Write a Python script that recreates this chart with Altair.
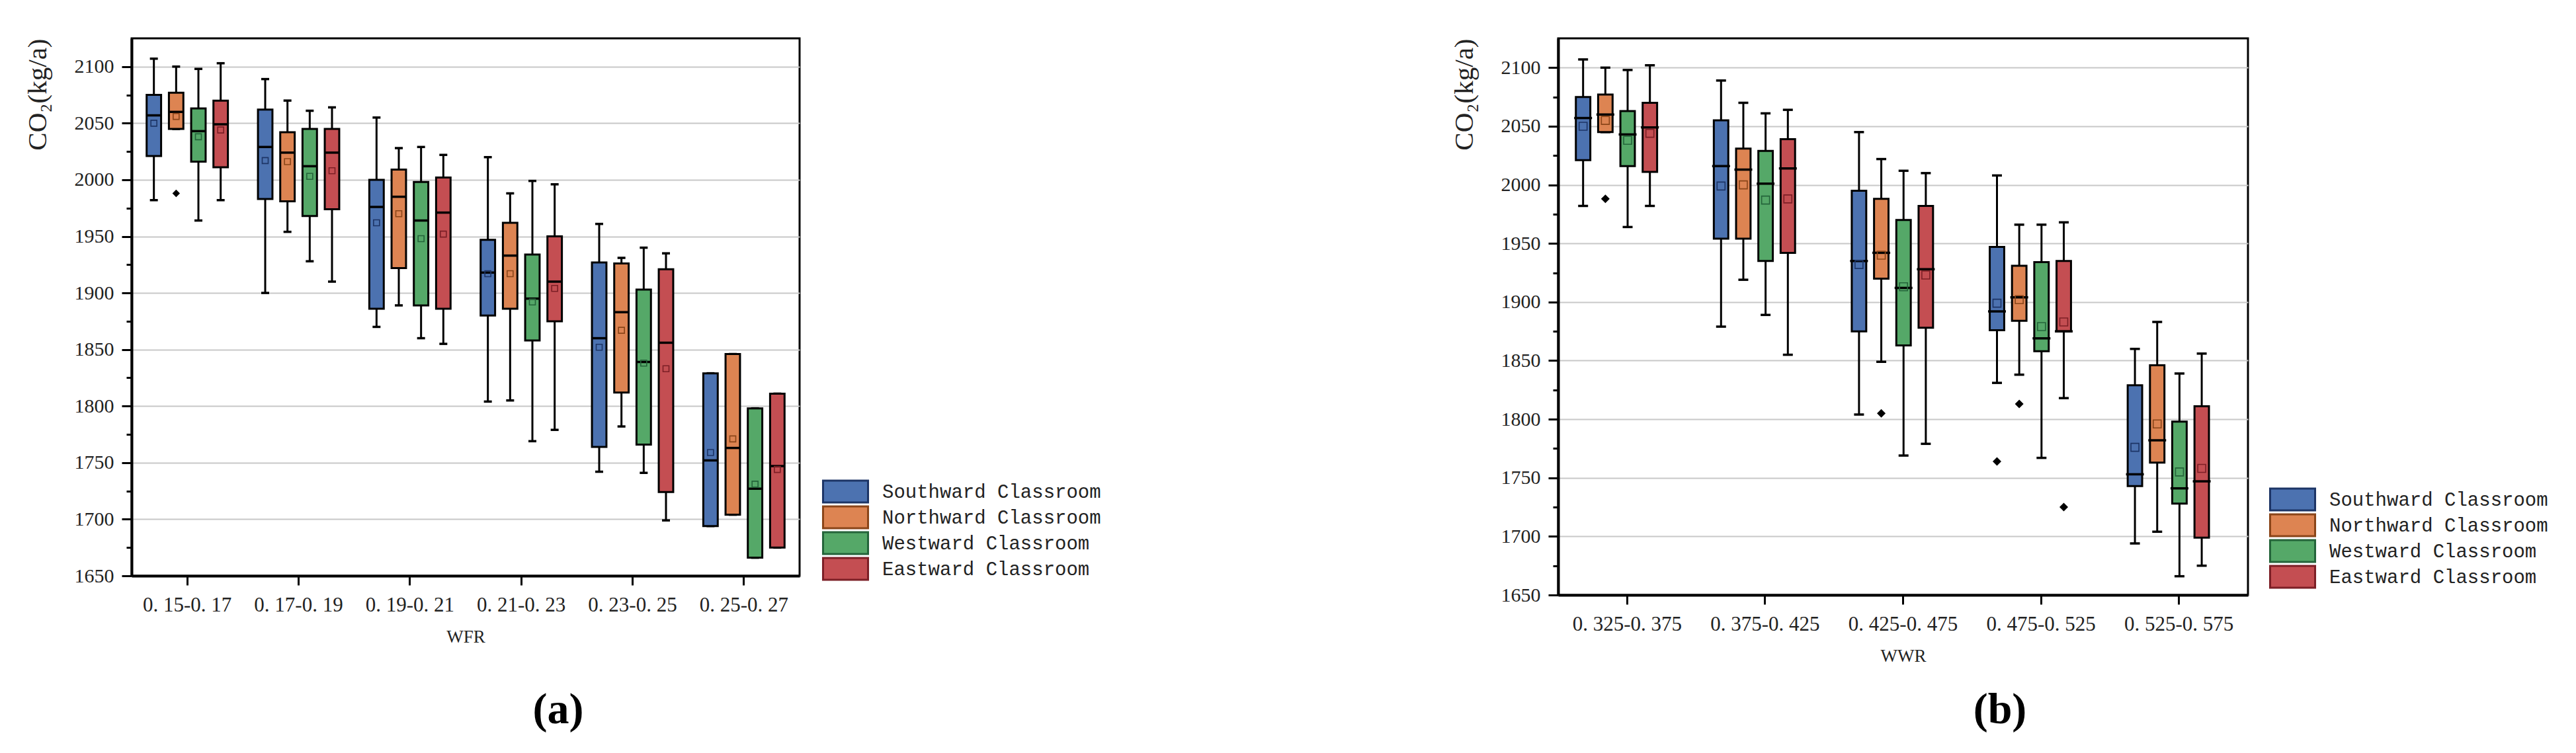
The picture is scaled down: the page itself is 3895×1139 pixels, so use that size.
import altair as alt
import pandas as pd

ORIENTS = ["Southward Classroom", "Northward Classroom", "Westward Classroom", "Eastward Classroom"]
FILLS = ["#4C72B0", "#DD8452", "#55A868", "#C44E52"]
MEAN_STROKES = ["#1d3566", "#8a4519", "#24643a", "#7c1f26"]

# ---------- panel (a): WFR ----------
WFR_BINS = ["0. 15-0. 17", "0. 17-0. 19", "0. 19-0. 21", "0. 21-0. 23", "0. 23-0. 25", "0. 25-0. 27"]
# values listed bin by bin, each bin in ORIENTS order (S, N, W, E)
WFR_LOW = [1982, 2045, 1964, 1982,
           1900, 1954, 1928, 1910,
           1870, 1889, 1860, 1855,
           1804, 1805, 1769, 1779,
           1742, 1782, 1741, 1699,
           1694, 1704, 1666, 1675]
WFR_Q1 = [2021, 2045, 2016, 2011,
          1983, 1981, 1968, 1974,
          1886, 1922, 1889, 1886,
          1880, 1886, 1858, 1875,
          1764, 1812, 1766, 1724,
          1694, 1704, 1666, 1675]
WFR_MED = [2057, 2060, 2043, 2049,
           2029, 2024, 2012, 2024,
           1976, 1985, 1964, 1971,
           1918, 1933, 1895, 1910,
           1860, 1883, 1839, 1856,
           1752, 1763, 1727, 1747]
WFR_Q3 = [2075, 2077, 2063, 2070,
          2062, 2042, 2045, 2045,
          2000, 2009, 1998, 2002,
          1947, 1962, 1934, 1950,
          1927, 1926, 1903, 1921,
          1829, 1846, 1798, 1811]
WFR_HIGH = [2107, 2100, 2098, 2103,
            2089, 2070, 2061, 2064,
            2055, 2028, 2029, 2022,
            2020, 1988, 1999, 1996,
            1961, 1931, 1940, 1935,
            1829, 1846, 1798, 1811]
WFR_MEAN = [2050, 2056, 2038, 2044,
            2017, 2016, 2003, 2008,
            1962, 1970, 1948, 1952,
            1917, 1917, 1892, 1904,
            1852, 1867, 1838, 1833,
            1759, 1771, 1731, 1744]
WFR_OUT_BIN = ["0. 15-0. 17"]
WFR_OUT_ORIENT = ["Northward Classroom"]
WFR_OUT_VAL = [1988]

# ---------- panel (b): WWR ----------
WWR_BINS = ["0. 325-0. 375", "0. 375-0. 425", "0. 425-0. 475", "0. 475-0. 525", "0. 525-0. 575"]
WWR_LOW = [1982, 2045, 1964, 1982,
           1879, 1919, 1889, 1855,
           1804, 1849, 1769, 1779,
           1831, 1838, 1767, 1818,
           1694, 1704, 1666, 1675]
WWR_Q1 = [2021, 2045, 2016, 2011,
          1954, 1954, 1935, 1942,
          1875, 1920, 1863, 1878,
          1876, 1884, 1858, 1875,
          1743, 1763, 1728, 1699]
WWR_MED = [2057, 2060, 2043, 2049,
           2016, 2013, 2001, 2014,
           1935, 1942, 1912, 1928,
           1892, 1904, 1869, 1875,
           1753, 1782, 1741, 1747]
WWR_Q3 = [2075, 2077, 2063, 2070,
          2055, 2031, 2029, 2039,
          1995, 1988, 1970, 1982,
          1947, 1931, 1934, 1935,
          1829, 1846, 1798, 1811]
WWR_HIGH = [2107, 2100, 2098, 2102,
            2089, 2070, 2061, 2064,
            2045, 2022, 2012, 2010,
            2008, 1966, 1966, 1968,
            1860, 1883, 1839, 1856]
WWR_MEAN = [2050, 2055, 2038, 2044,
            1999, 2000, 1987, 1988,
            1932, 1940, 1913, 1923,
            1899, 1902, 1879, 1883,
            1776, 1796, 1755, 1758]
WWR_OUT_BIN = ["0. 325-0. 375", "0. 425-0. 475", "0. 475-0. 525", "0. 475-0. 525", "0. 475-0. 525"]
WWR_OUT_ORIENT = ["Northward Classroom", "Northward Classroom", "Southward Classroom",
                  "Northward Classroom", "Eastward Classroom"]
WWR_OUT_VAL = [1988, 1805, 1764, 1813, 1725]

MAJOR_TICKS = list(range(1650, 2101, 50))
MINOR_TICKS = list(range(1675, 2076, 50))
Y_DOMAIN = [1650, 2125]

SERIF = "Liberation Serif"
MONO = "Liberation Mono"


def panel(bins, low, q1, med, q3, high, mean, out_bin, out_orient, out_val,
          xtitle, width, height, cap_w, box_w, mean_size, dia_size,
          legend_x, legend_y, caption, cap_x, cap_y):
    rows = []
    for i, b in enumerate(bins):
        for j, o in enumerate(ORIENTS):
            k = i * 4 + j
            rows.append({"bin": b, "orient": o, "low": low[k], "q1": q1[k], "med": med[k],
                         "q3": q3[k], "high": high[k], "mean": mean[k]})
    df = pd.DataFrame(rows)
    out = pd.DataFrame({"bin": out_bin, "orient": out_orient, "val": out_val})

    xscale = alt.Scale(domain=bins, paddingInner=0.2, paddingOuter=0.1)
    xo = alt.XOffset("orient:N", scale=alt.Scale(domain=ORIENTS, paddingInner=0.35, paddingOuter=0.175))
    yscale = alt.Scale(domain=Y_DOMAIN, nice=False, zero=False)

    x_axis = alt.Axis(
        title=xtitle, labelAngle=0, tickSize=14, tickWidth=3, tickColor="black",
        domainColor="black", domainWidth=4, grid=False,
        labelFont=SERIF, labelFontSize=31, labelColor="#222", labelPadding=15,
        titleFont=SERIF, titleFontSize=27, titleFontWeight="normal", titleColor="#222",
        titlePadding=20)

    def xm():
        return alt.X("bin:N", scale=xscale, axis=x_axis)

    def ynone(f):
        return alt.Y(f, scale=yscale, axis=None)

    base = alt.Chart(df)

    y_main = alt.Y("low:Q", scale=yscale, axis=alt.Axis(
        values=MAJOR_TICKS, format="d", title="CO₂(kg/a)", grid=True,
        gridColor="#c8c8c8", gridWidth=2, tickSize=15, tickWidth=3, tickColor="black",
        domainColor="black", domainWidth=4,
        labelFont=SERIF, labelFontSize=30, labelColor="#222", labelPadding=12,
        titleFont=SERIF, titleFontSize=41, titleFontWeight="normal", titleColor="#222",
        titlePadding=34, titleAnchor="end"))

    whisk_lo = base.mark_rule(color="black", strokeWidth=3).encode(
        x=xm(), xOffset=xo, y=y_main, y2="q1:Q")
    whisk_hi = base.mark_rule(color="black", strokeWidth=3).encode(
        x=xm(), xOffset=xo, y=ynone("q3:Q"), y2="high:Q")
    cap_lo = base.mark_tick(color="black", thickness=3.5, size=cap_w, opacity=1).encode(
        x=xm(), xOffset=xo, y=ynone("low:Q"))
    cap_hi = base.mark_tick(color="black", thickness=3.5, size=cap_w, opacity=1).encode(
        x=xm(), xOffset=xo, y=ynone("high:Q"))
    box = base.mark_bar(stroke="black", strokeWidth=3, opacity=1).encode(
        x=xm(), xOffset=xo, y=ynone("q1:Q"), y2="q3:Q",
        color=alt.Color("orient:N", scale=alt.Scale(domain=ORIENTS, range=FILLS),
                        legend=alt.Legend(
                            title=None, orient="none", legendX=legend_x, legendY=legend_y,
                            symbolType="M-2.43,-1.18H2.43V1.18H-2.43Z", symbolSize=784,
                            symbolStrokeColor="black", symbolStrokeWidth=3, symbolOpacity=1,
                            labelFont=MONO, labelFontSize=29, labelColor="#222",
                            labelLimit=0, labelOffset=40, rowPadding=-9, padding=0)))
    median = base.mark_tick(color="black", thickness=3.5, size=box_w, opacity=1).encode(
        x=xm(), xOffset=xo, y=ynone("med:Q"))
    means = base.mark_point(shape="square", filled=False, size=mean_size, strokeWidth=1.6,
                            opacity=1).encode(
        x=xm(), xOffset=xo, y=ynone("mean:Q"),
        stroke=alt.Stroke("orient:N", scale=alt.Scale(domain=ORIENTS, range=MEAN_STROKES),
                          legend=None))
    outliers = alt.Chart(out).mark_point(shape="diamond", filled=True, color="black",
                                         size=dia_size, opacity=1).encode(
        x=xm(), xOffset=xo, y=ynone("val:Q"))
    minor = base.mark_point(opacity=0).encode(
        x=xm(), xOffset=xo,
        y=alt.Y("med:Q", scale=yscale, axis=alt.Axis(
            orient="left", values=MINOR_TICKS, labels=False, tickSize=8, tickWidth=3,
            tickColor="black", domain=False, grid=False, title=None)))
    cap = alt.Chart(pd.DataFrame({"c": [caption]})).mark_text(
        font=SERIF, fontSize=66, fontWeight="bold", color="black",
        align="center", baseline="middle").encode(
        text="c:N", x=alt.value(cap_x), y=alt.value(cap_y))

    return alt.layer(whisk_lo, whisk_hi, cap_lo, cap_hi, box, median, means, outliers,
                     minor, cap).resolve_axis(y="independent").properties(
        width=width, height=height)


pa = panel(WFR_BINS, WFR_LOW, WFR_Q1, WFR_MED, WFR_Q3, WFR_HIGH, WFR_MEAN,
           WFR_OUT_BIN, WFR_OUT_ORIENT, WFR_OUT_VAL, "WFR",
           1010, 813, 12, 22, 81, 130, 1064, 670, "(a)", 645, 1016)
pb = panel(WWR_BINS, WWR_LOW, WWR_Q1, WWR_MED, WWR_Q3, WWR_HIGH, WWR_MEAN,
           WWR_OUT_BIN, WWR_OUT_ORIENT, WWR_OUT_VAL, "WWR",
           1043, 842, 15, 27, 144, 170, 1095, 682, "(b)", 668, 1016)

chart = alt.hconcat(pa, pb, spacing=1147, bounds="flush").resolve_scale(
    color="independent", stroke="independent"
).resolve_legend(color="independent").properties(
    padding={"left": 26, "top": 48, "right": 0, "bottom": 0},
    background="white"
).configure_view(stroke="black", strokeWidth=3)

chart.save("out.html", embed_options={"renderer": "svg", "actions": False})
